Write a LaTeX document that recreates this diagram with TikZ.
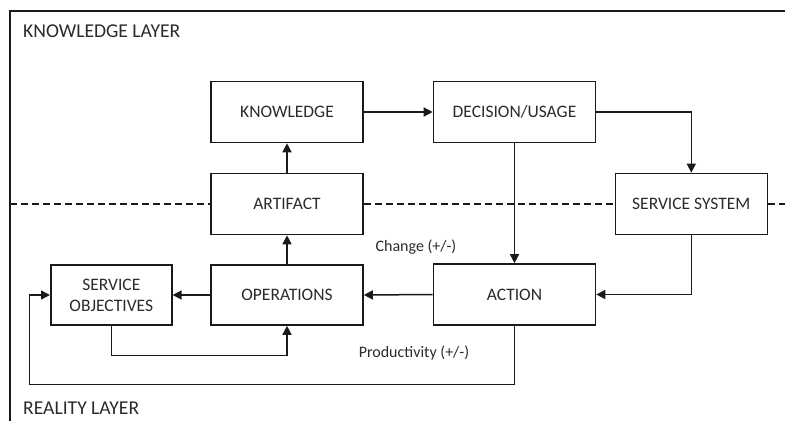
\documentclass[tikz,border=0pt]{standalone}
\usepackage{fontspec}
\setmainfont{Carlito}
\usetikzlibrary{arrows.meta}
\definecolor{ink}{HTML}{1A1A1A}
\definecolor{txt}{HTML}{2B2B2B}
\tikzset{
  stepbox/.style={draw=ink, line width=1.6pt, fill=white, minimum width=152pt,
    minimum height=61pt, inner sep=0pt, align=center, font=\fontsize{17.5}{21}\selectfont, text=txt},
  flow/.style={draw=ink, line width=1.5pt, -{Triangle[length=9pt,width=9pt]}},
  wire/.style={draw=ink, line width=1.5pt},
  layerline/.style={draw=ink, line width=1.4pt, dash pattern=on 7pt off 4pt},
  lbl/.style={text=txt, inner sep=0pt, font=\fontsize{16}{19}\selectfont},
  layertitle/.style={text=txt, inner sep=0pt, anchor=west, font=\fontsize{19.6}{23}\selectfont}
}
\begin{document}
\begin{tikzpicture}[x=1pt,y=-1pt]
\useasboundingbox (0,0) rectangle (785,421);

% frame of the two layers
\draw[wire] (785,11) -- (10,11) -- (10,421);
\node[layertitle] (kl) at (23,31) {KNOWLEDGE LAYER};
\node[layertitle] (rl) at (23,408) {REALITY LAYER};

% boxes
\node[stepbox] (know) at (287,112) {KNOWLEDGE};
\node[stepbox, minimum width=162pt] (dec) at (514.5,112) {DECISION/USAGE};
\node[stepbox] (art) at (287,204) {ARTIFACT};
\node[stepbox] (sys) at (691.3,204) {SERVICE SYSTEM};
\node[stepbox, minimum width=121pt, minimum height=60pt] (obj) at (111.3,295) {SERVICE\\OBJECTIVES};
\node[stepbox, minimum height=60pt] (ops) at (287,295) {OPERATIONS};
\node[stepbox, minimum width=162pt] (act) at (514.5,294.5) {ACTION};

% boundary between the layers
\coordinate (dl) at (10,204);
\coordinate (dr) at (785,204);
\draw[layerline] (dl) -- (art.west);
\draw[layerline] (art.east) -- (sys.west);
\draw[layerline] (sys.east) -- (dr);

% labels
\node[lbl] (chg) at (416,247) {Change (+/-)};
\node[lbl] (prod) at (414,352.5) {Productivity (+/-)};

% connectors
\draw[flow] (know.east) -- (dec.west);
\draw[flow] (art.north) -- (know.south);
\draw[flow] (ops.north) -- (art.south);
\draw[flow] (dec.south) -- (act.north);
\draw[flow] (dec.east) -| (sys.north);
\draw[flow] (sys.south) |- (act.east);
\draw[flow] (act.west) -- (ops.east);
\draw[flow] (ops.west) -- (obj.east);

\coordinate (loopa) at (112.7,355.7);
\draw[flow] (obj.south) -- (obj.south |- loopa) -| (ops.south);

\coordinate (loopb) at (29.7,384.3);
\draw[flow] (act.south) |- (loopb) |- (obj.west);
\end{tikzpicture}
\end{document}
